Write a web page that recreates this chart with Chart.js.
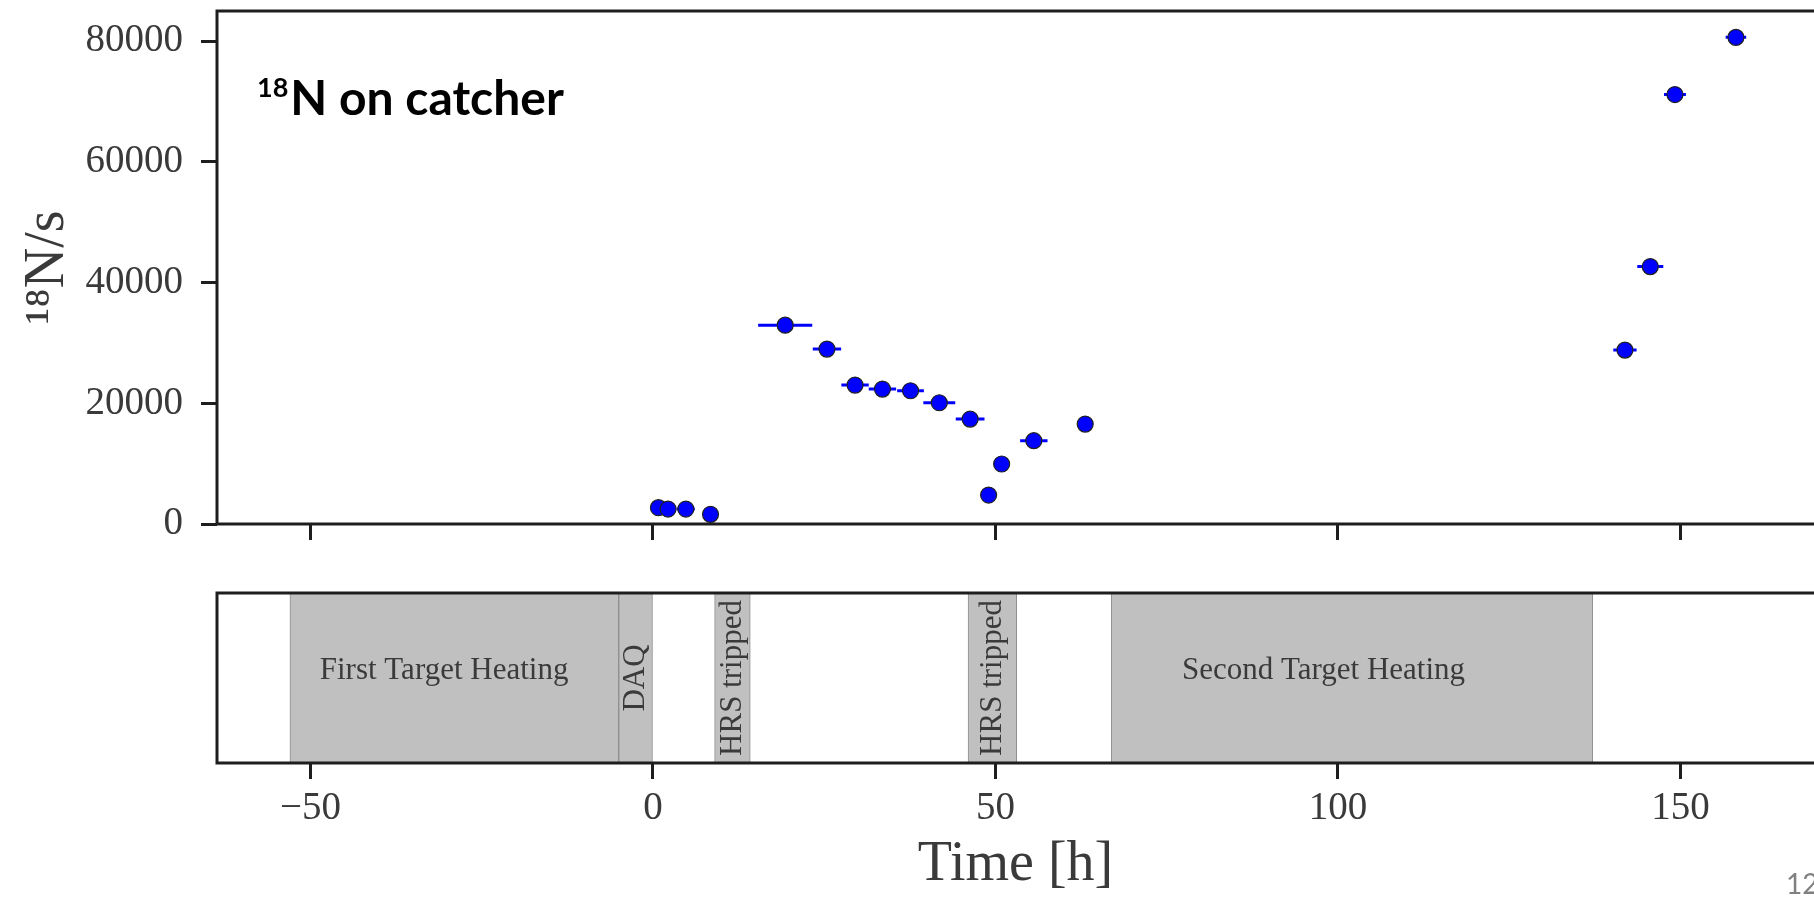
<!DOCTYPE html>
<html>
<head>
<meta charset="utf-8">
<title>18N on catcher</title>
<script src="https://cdn.jsdelivr.net/npm/chart.js@4.4.1/dist/chart.umd.min.js"></script>
<style>
  html, body { margin: 0; padding: 0; background: #fff; overflow: hidden; }
  #wrap { position: relative; width: 1814px; height: 897px; }
  #rate { position: absolute; left: 0; top: 0; }
  #beam { position: absolute; left: 0; top: 560px; }
  #page { position: absolute; left: 1786px; top: 866px; font: 28px Lato, sans-serif; color: #808080; }
</style>
</head>
<body>
<div id="wrap">
  <canvas id="rate" width="1814" height="560"></canvas>
  <canvas id="beam" width="1814" height="337"></canvas>
  <div id="page">12</div>
</div>
<script>
// 18N rate on the catcher: time [h], rate [1/s], half width of the time bin [h]
const times = [0.8, 2.2, 4.8, 8.4, 19.3, 25.4, 29.5, 33.5, 37.6, 41.8, 46.3, 49.0, 50.9, 55.6, 63.1, 141.9, 145.6, 149.2, 158.1];
const rates = [2700, 2480, 2480, 1600, 32950, 28980, 23020, 22360, 22080, 20090, 17390, 4800, 9940, 13800, 16560, 28810, 42650, 71160, 80630];
const timeErr = [1.2, 1.2, 1.3, 0.8, 3.95, 2.07, 2.0, 2.0, 1.95, 2.33, 2.1, 0.8, 0.8, 2.0, 0.8, 1.7, 1.9, 1.6, 1.5];

// periods in the lower panel
const bandNames = ['First Target Heating', 'DAQ', 'HRS tripped', 'HRS tripped', 'Second Target Heating'];
const bandStart = [-53.0, -5.0, 9.0, 46.0, 66.9];
const bandEnd = [-5.0, 0.0, 14.2, 53.1, 137.2];
const bandTextAt = [-30.5, -2.5, 11.6, 49.6, 97.9];

const xTicks = [-50, 0, 50, 100, 150];
const yTicks = [0, 20000, 40000, 60000, 80000];
const xMin = -63.65, xMax = 169.5;
const yMax = 85000;

const captionIso = '18';
const captionText = 'N on catcher';

const serif = "'Liberation Serif', 'DejaVu Serif', serif";
const ink = '#1e1e1e';
const grey = '#3a3a3a';

// spines: top, left, bottom (right one is cut off by the slide)
const frame = {
  id: 'frame',
  afterDatasetsDraw(chart) {
    const { ctx, chartArea: a } = chart;
    ctx.save();
    ctx.strokeStyle = ink;
    ctx.lineWidth = 3;
    ctx.beginPath();
    ctx.moveTo(a.right + 2, a.top);
    ctx.lineTo(a.left, a.top);
    ctx.lineTo(a.left, a.bottom);
    ctx.lineTo(a.right + 2, a.bottom);
    ctx.stroke();
    ctx.restore();
  }
};

const caption = {
  id: 'caption',
  afterDraw(chart) {
    const { ctx, chartArea: a } = chart;
    ctx.save();
    ctx.fillStyle = '#000';
    ctx.textBaseline = 'alphabetic';
    ctx.font = 'bold 27px Lato, sans-serif';
    const x0 = a.left + 40;
    ctx.fillText(captionIso, x0, a.top + 86);
    const w = ctx.measureText(captionIso).width;
    ctx.font = 'bold 48px Lato, sans-serif';
    ctx.fillText(captionText, x0 + w + 2, a.top + 104);
    ctx.restore();
  }
};

const bandText = {
  id: 'bandText',
  afterDatasetsDraw(chart) {
    const { ctx, chartArea: a } = chart;
    const xs = chart.scales.x;
    ctx.save();
    ctx.fillStyle = grey;
    ctx.font = '31px ' + serif;
    ctx.textAlign = 'center';
    ctx.textBaseline = 'middle';
    bandNames.forEach((name, i) => {
      const x = xs.getPixelForValue(bandTextAt[i]);
      const mid = (a.top + a.bottom) / 2;
      if (bandEnd[i] - bandStart[i] < 10) {
        ctx.save();
        ctx.translate(x, mid);
        ctx.rotate(-Math.PI / 2);
        ctx.fillText(name, 0, 0);
        ctx.restore();
      } else {
        ctx.fillText(name, x, mid - 7);
      }
    });
    ctx.restore();
  }
};

const tickGrid = { drawOnChartArea: false, drawTicks: true, tickLength: 16, tickWidth: 3, tickColor: ink };
const fmtX = v => (v < 0 ? '\u2212' + (-v) : String(v));
const noPad = s => { s.paddingTop = 0; s.paddingBottom = 0; s.paddingLeft = 0; s.paddingRight = 0; };

// error bars as broken line segments
const errLines = [];
times.forEach((t, i) => {
  errLines.push({ x: t - timeErr[i], y: rates[i] }, { x: t + timeErr[i], y: rates[i] }, { x: null, y: null });
});

new Chart(document.getElementById('rate'), {
  type: 'scatter',
  data: {
    datasets: [{
      label: '18N/s',
      data: times.map((t, i) => ({ x: t, y: rates[i] })),
      pointRadius: 8,
      pointBackgroundColor: '#0000ff',
      pointBorderColor: '#202020',
      pointBorderWidth: 1.2
    }, {
      label: 'bin',
      data: errLines,
      showLine: true,
      spanGaps: false,
      pointRadius: 0,
      borderColor: '#0000ff',
      borderWidth: 3
    }]
  },
  options: {
    animation: false,
    responsive: false,
    devicePixelRatio: 1,
    layout: { autoPadding: false, padding: { top: 11, right: 0, bottom: 0, left: 0 } },
    plugins: { legend: { display: false }, tooltip: { enabled: false } },
    scales: {
      x: {
        type: 'linear', min: xMin, max: xMax,
        afterBuildTicks: s => { s.ticks = xTicks.map(v => ({ value: v })); },
        afterFit: s => { s.height = 36; noPad(s); },
        ticks: { display: false },
        grid: tickGrid,
        border: { display: false }
      },
      y: {
        min: 0, max: yMax,
        afterBuildTicks: s => { s.ticks = yTicks.map(v => ({ value: v })); },
        afterFit: s => { s.width = 217; noPad(s); },
        ticks: { font: { family: serif, size: 39 }, color: grey, padding: 18, callback: v => String(v) },
        grid: tickGrid,
        border: { display: false },
        title: {
          display: true, text: '\u00b9\u2078N/s', color: grey,
          font: { family: serif, size: 56, lineHeight: 1 },
          padding: { top: 20, bottom: 0 }
        }
      }
    }
  },
  plugins: [frame, caption]
});

new Chart(document.getElementById('beam'), {
  type: 'bar',
  data: {
    labels: ['beam'],
    datasets: bandNames.map((name, i) => ({
      label: name,
      data: [[bandStart[i], bandEnd[i]]],
      backgroundColor: '#c0c0c0',
      borderColor: '#8e8e8e',
      borderWidth: 1,
      borderSkipped: false,
      barPercentage: 1,
      categoryPercentage: 1,
      grouped: false
    }))
  },
  options: {
    indexAxis: 'y',
    animation: false,
    responsive: false,
    devicePixelRatio: 1,
    layout: { autoPadding: false, padding: { top: 33, right: 0, bottom: 0, left: 217 } },
    plugins: { legend: { display: false }, tooltip: { enabled: false } },
    scales: {
      x: {
        type: 'linear', min: xMin, max: xMax,
        afterBuildTicks: s => { s.ticks = xTicks.map(v => ({ value: v })); },
        afterFit: s => { s.height = 134; noPad(s); },
        ticks: { font: { family: serif, size: 39 }, color: grey, padding: 6, callback: fmtX },
        grid: tickGrid,
        border: { display: false },
        title: {
          display: true, text: 'Time [h]', color: grey,
          font: { family: serif, size: 56, lineHeight: 1 },
          padding: { top: 0, bottom: 4 }
        }
      },
      y: { display: false }
    }
  },
  plugins: [frame, bandText]
});
</script>
</body>
</html>
